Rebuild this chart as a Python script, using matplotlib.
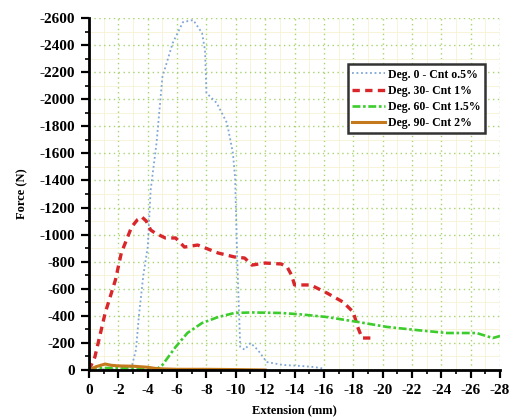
import matplotlib
matplotlib.use("Agg")
import matplotlib.pyplot as plt
from matplotlib.ticker import MultipleLocator

plt.rcParams["font.family"] = "Liberation Serif"
plt.rcParams["font.weight"] = "bold"
plt.rcParams["axes.unicode_minus"] = False

# Deg. 0 - Cnt 0.5%
blue_x = [0, -1, -2, -2.9, -3.2, -3.4, -3.7, -4.0, -4.2, -4.6, -5.0, -5.7, -6.4, -7.1, -7.7,
          -7.9, -8.0, -8.7, -9.4, -9.8, -9.95, -10.1, -10.3, -10.6, -11.0, -11.5, -12.1,
          -13.2, -14.4, -15.3, -16.0]
blue_y = [0, -5, -10, -20, -150, -400, -700, -908, -1330, -1677, -2164, -2415, -2570, -2585, -2489,
          -2363, -2046, -1972, -1824, -1603, -1425, -800, -170, -150, -200, -148, -59,
          -37, -30, -22, -10]

# Deg. 30 - Cnt 1%
red_x = [0, -0.4, -1.1, -1.8, -2.2, -2.9, -3.3, -3.6, -3.9, -4.2, -4.5, -5.2, -5.9, -6.5, -7.4,
         -8.8, -9.9, -10.6, -11.1, -12.0, -13.1, -13.5, -13.8, -14.0, -15.1, -16.2, -17.3,
         -18.0, -18.3, -18.6, -19.3]
red_y = [0, -96, -420, -665, -864, -1056, -1110, -1130, -1100, -1034, -1012, -975, -975, -908, -923,
         -864, -835, -827, -775, -790, -783, -760, -700, -628, -628, -569, -502,
         -428, -318, -236, -236]

# Deg. 60 - Cnt 1.5%
green_x = [0, -1, -2, -3, -4, -4.6, -5.0, -5.9, -6.7, -7.7, -8.8, -9.9, -11.1, -13.1, -14.5,
           -16.2, -18.3, -20.3, -22.3, -24.4, -26.4, -27.5, -28]
green_y = [-10, -15, -15, -12, -8, -5, -37, -170, -273, -347, -391, -421, -425, -421, -410,
           -391, -355, -318, -295, -273, -273, -236, -251]

# Deg. 90 - Cnt 2%
orange_x = [0, -0.5, -1.1, -1.5, -2, -3, -4, -4.5, -5, -6, -8, -10, -12]
orange_y = [0, -25, -44, -35, -30, -28, -20, -12, -8, -5, -5, -3, 0]

labels = ["Deg. 0 - Cnt o.5%", "Deg. 30- Cnt 1%", "Deg. 60- Cnt 1.5%", "Deg. 90- Cnt 2%"]

fig = plt.figure(figsize=(5.22, 4.19), dpi=100)
ax = fig.add_axes([0.1705, 0.117, 0.7875, 0.84])

ax.plot(blue_x, blue_y, color="#7fa6d6", lw=1.3, ls=(0, (1, 1.5)), label=labels[0])
ax.plot(red_x, red_y, color="#d8262b", lw=2.4, ls=(0, (2.2, 1.6)), label=labels[1])
ax.plot(green_x, green_y, color="#3ccc2c", lw=1.9, ls=(0, (3, 1, 1, 1)), label=labels[2])
ax.plot(orange_x, orange_y, color="#c47a1c", lw=2.2, label=labels[3])

ax.set_xlim(0, -28)
ax.set_ylim(0, -2600)
ax.xaxis.set_major_locator(MultipleLocator(2))
ax.xaxis.set_minor_locator(MultipleLocator(1))
ax.yaxis.set_major_locator(MultipleLocator(200))
ax.yaxis.set_minor_locator(MultipleLocator(100))

ax.grid(which="major", color="#a6d46e", ls=(0, (1, 2.5)), lw=1.0)
ax.grid(which="minor", color="#f7f2d2", ls="-", lw=0.6)
ax.set_axisbelow(True)

for s in ["top", "right"]:
    ax.spines[s].set_visible(False)
for s in ["left", "bottom"]:
    ax.spines[s].set_linewidth(2)

ax.tick_params(which="major", length=6, width=1.6, labelsize=11, pad=4)
ax.tick_params(which="minor", length=3, width=1.2)
for t in ax.get_xticklabels() + ax.get_yticklabels():
    t.set_fontstretch("condensed")

ax.set_xlabel("Extension (mm)", fontsize=9, fontweight="bold", labelpad=5)
ax.set_ylabel("Force (N)", fontsize=9, fontweight="bold", labelpad=8)

leg = ax.legend(loc="upper left", bbox_to_anchor=(0.615, 0.885), fontsize=8.5,
                frameon=True, fancybox=False, handlelength=2.8, borderpad=0.35,
                labelspacing=0.35, handletextpad=0.3, framealpha=1)
leg.get_frame().set_edgecolor("#333333")
leg.get_frame().set_linewidth(1.8)

fig.savefig("out.png", dpi=100)
